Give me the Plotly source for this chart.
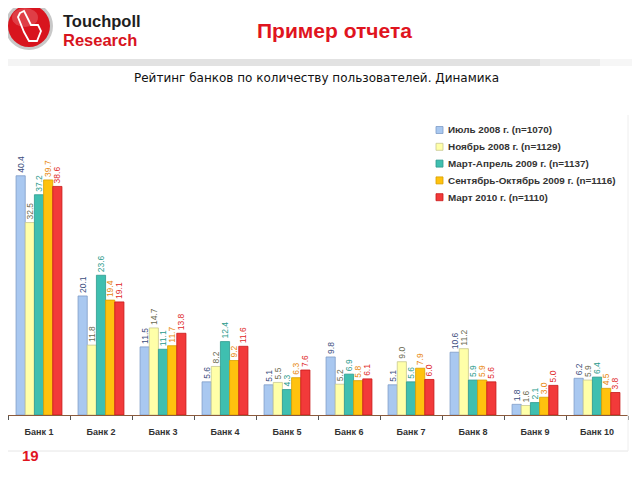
import plotly.graph_objects as go

banks = ["Банк 1", "Банк 2", "Банк 3", "Банк 4", "Банк 5", "Банк 6", "Банк 7", "Банк 8", "Банк 9", "Банк 10"]
series_names = [
    "Июль 2008 г. (n=1070)",
    "Ноябрь 2008 г. (n=1129)",
    "Март-Апрель 2009 г. (n=1137)",
    "Сентябрь-Октябрь 2009 г. (n=1116)",
    "Март 2010 г. (n=1110)",
]
jul_2008 = [40.4, 20.1, 11.5, 5.6, 5.1, 9.8, 5.1, 10.6, 1.8, 6.2]
nov_2008 = [32.5, 11.8, 14.7, 8.2, 5.5, 5.2, 9.0, 11.2, 1.6, 5.9]
mar_apr_2009 = [37.2, 23.6, 11.1, 12.4, 4.3, 6.9, 5.6, 5.9, 2.1, 6.4]
sep_oct_2009 = [39.7, 19.4, 11.7, 9.2, 6.3, 5.8, 7.9, 5.9, 3.0, 4.5]
mar_2010 = [38.6, 19.1, 13.8, 11.6, 7.6, 6.1, 6.0, 5.6, 5.0, 3.8]
values = [jul_2008, nov_2008, mar_apr_2009, sep_oct_2009, mar_2010]

fills = ["#A9C8F0", "#FFFFA8", "#3FBFB0", "#FFC20E", "#F23A3A"]
edges = ["#7F9CC6", "#C8C890", "#2E9A8E", "#D8A000", "#C81818"]
text_colors = ["#3B4E80", "#6A6A50", "#2A9A8C", "#E8860A", "#E02828"]

# page offset (browser body margin)
O = 8
W, H = 640 - O, 480 - O
# plot area in screen pixels
L, R, T, B = 8, 628, 113, 415
PW, PH = R - L, B - T


def px(x):
    return (x - L) / PW


def py(y):
    return (B - y) / PH


fig = go.Figure()
for name, vals, fc, ec, tc in zip(series_names, values, fills, edges, text_colors):
    fig.add_trace(go.Bar(
        x=banks, y=vals, name=name,
        marker=dict(color=fc, line=dict(color=ec, width=0.8)),
        text=[f"{v:.1f}" for v in vals],
        textposition="outside", textangle=-90, constraintext="none",
        textfont=dict(size=8.5, color=tc, family="Liberation Sans"),
        cliponaxis=False, showlegend=False,
    ))

shapes = []
# header grey band
for x0, x1, c in [(0, 40, "#F4F4F4"), (30, 120, "#E8E8E8"), (100, 560, "#E2E2E2"), (540, 610, "#ECECEC"), (600, 640, "#F6F6F6")]:
    shapes.append(dict(type="rect", xref="paper", yref="paper",
                       x0=px(x0), x1=px(x1), y0=py(66), y1=py(59),
                       fillcolor=c, line=dict(width=0), layer="below"))
# logo
shapes.append(dict(type="circle", xref="paper", yref="paper",
                   x0=px(5), x1=px(53), y0=py(50), y1=py(2),
                   fillcolor="#C8C8C8", line=dict(width=0)))
shapes.append(dict(type="circle", xref="paper", yref="paper",
                   x0=px(8), x1=px(50), y0=py(47), y1=py(5),
                   fillcolor="#D8141E", line=dict(width=0)))
shapes.append(dict(type="circle", xref="paper", yref="paper",
                   x0=px(12), x1=px(38), y0=py(27), y1=py(8),
                   fillcolor="rgba(255,255,255,0.18)", line=dict(width=0)))
shapes.append(dict(type="path", xref="paper", yref="paper",
                   path=(f"M {px(20)} {py(13)} L {px(24)} {py(11)} L {px(31)} {py(25)} "
                         f"L {px(38)} {py(25)} L {px(41)} {py(31)} L {px(37)} {py(41)} "
                         f"L {px(29)} {py(41)} L {px(24)} {py(32)} L {px(18)} {py(17)} Z"),
                   fillcolor="rgba(255,255,255,0)", line=dict(color="white", width=1.8)))
# line below category labels
shapes.append(dict(type="line", xref="paper", yref="paper",
                   x0=px(8), x1=px(628), y0=py(451), y1=py(451),
                   line=dict(color="#E6E6E6", width=1)))
# right faint border
shapes.append(dict(type="line", xref="paper", yref="paper",
                   x0=px(628), x1=px(628), y0=py(115), y1=py(451),
                   line=dict(color="#EEEEEE", width=1)))

annotations = [
    dict(text="<b>Touchpoll</b>", x=px(62), y=py(21), xanchor="left", yanchor="middle",
         font=dict(size=16.5, color="#1E1E1E", family="Liberation Sans"), showarrow=False,
         borderpad=0, xref="paper", yref="paper"),
    dict(text="<b>Research</b>", x=px(62), y=py(40), xanchor="left", yanchor="middle",
         font=dict(size=16.5, color="#D8141E", family="Liberation Sans"), showarrow=False,
         borderpad=0, xref="paper", yref="paper"),
    dict(text="<b>Пример отчета</b>", x=px(334), y=py(30), xanchor="center", yanchor="middle",
         font=dict(size=21, color="#E0141E", family="Liberation Sans"), showarrow=False,
         xref="paper", yref="paper"),
    dict(text="Рейтинг банков по количеству пользователей. Динамика", x=px(316), y=py(78),
         xanchor="center", yanchor="middle",
         font=dict(size=12, color="#111111", family="DejaVu Sans"), showarrow=False,
         xref="paper", yref="paper"),
    dict(text="<b>19</b>", x=px(20), y=py(455), xanchor="left", yanchor="middle",
         font=dict(size=15, color="#E0141E", family="Liberation Sans"), showarrow=False,
         xref="paper", yref="paper"),
]

# manual legend
leg_y0, leg_dy = 130, 16.8
for i, (name, fc, ec) in enumerate(zip(series_names, fills, edges)):
    yc = leg_y0 + i * leg_dy
    shapes.append(dict(type="rect", xref="paper", yref="paper",
                       x0=px(436), x1=px(443), y0=py(yc + 3.5), y1=py(yc - 3.5),
                       fillcolor=fc, line=dict(color=ec, width=0.8)))
    annotations.append(dict(text="<b>" + name + "</b>", x=px(447), y=py(yc), xanchor="left", yanchor="middle",
                            font=dict(size=9.9, color="#333333", family="Liberation Sans"),
                            showarrow=False, borderpad=0, xref="paper", yref="paper"))

fig.update_layout(
    width=W, height=H,
    margin=dict(l=L - O, r=W - (R - O), t=T - O, b=H - (B - O), pad=0),
    paper_bgcolor="white", plot_bgcolor="white",
    barmode="group", bargap=0.26, bargroupgap=0,
    showlegend=False,
    xaxis=dict(showgrid=False, showline=True, linecolor="#8B5A3C", linewidth=1.2,
               ticks="outside", tickson="boundaries", ticklen=4, tickcolor="#555555",
               tickfont=dict(size=9, color="#333333", family="Liberation Sans"),
               ticklabelstandoff=8, tickprefix="<b>", ticksuffix="</b>"),
    yaxis=dict(range=[0, 51], visible=False, showgrid=False, zeroline=False),
    shapes=shapes, annotations=annotations,
    font=dict(family="Liberation Sans"),
)

fig.write_html("out.html")
